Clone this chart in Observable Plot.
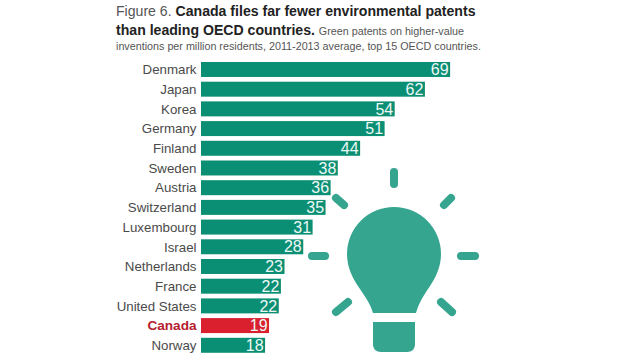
<!DOCTYPE html>
<html><head><meta charset="utf-8">
<script src="https://cdn.jsdelivr.net/npm/d3@7"></script>
<script src="https://cdn.jsdelivr.net/npm/@observablehq/plot@0.6"></script>
<style>
html,body{margin:0;padding:0;background:#fff;overflow:hidden}
#wrap{position:relative;width:635px;height:357px;font-family:"Liberation Sans",Arial,sans-serif}
#head{position:absolute;left:116px;top:0;width:519px;height:60px;color:#222}
#head div{position:absolute;left:0;white-space:nowrap}
#head .t{font-size:14.1px;font-weight:bold;color:#222}
#head .l{font-weight:normal;color:#555}
#head .s{font-size:10.75px;font-weight:normal;color:#555}
#chart{position:absolute;left:0;top:60px}
#bulb{position:absolute;left:0;top:0;pointer-events:none}
</style></head>
<body>
<div id="wrap">
<div id="head">
<div class="t" style="top:3px"><span class="l">Figure 6.</span> Canada files far fewer environmental patents</div>
<div class="t" style="top:22px">than leading OECD countries. <span class="s">Green patents on higher-value</span></div>
<div class="s" style="top:40px">inventions per million residents, 2011-2013 average, top 15 OECD countries.</div>
</div>
<div id="chart"></div>
<svg id="bulb" width="635" height="357" viewBox="0 0 635 357">
<g fill="#36a590">
<path d="M373 313 L416 313 C419 303 422 298 428 289 C435 279 441 268 441 254 A47 47 0 0 0 347 254 C347 268 353 279 360 289 C366 298 370 303 373 313Z"/>
<path d="M373 322 L415 322 L415 344 C415 349 412 352 407 352 L381 352 C376 352 373 349 373 344Z"/>
</g>
<g stroke="#36a590" stroke-width="8" stroke-linecap="round" fill="none">
<line x1="394" y1="172" x2="394" y2="184"/>
<line x1="336" y1="198" x2="344" y2="205"/>
<line x1="451" y1="198" x2="444" y2="205"/>
<line x1="312" y1="256" x2="325" y2="256"/>
<line x1="461" y1="256" x2="475" y2="256"/>
<line x1="336" y1="312" x2="348" y2="302"/>
<line x1="452" y1="312" x2="441" y2="302"/>
</g>
</svg>
</div>
<script>
const countries = ["Denmark","Japan","Korea","Germany","Finland","Sweden","Austria","Switzerland","Luxembourg","Israel","Netherlands","France","United States","Canada","Norway"];
const values = [69.2,62.2,53.8,51,44.2,38,36,34.6,31,28.4,23.2,22.2,21.6,18.9,17.8];
const labels = ["69","62","54","51","44","38","36","35","31","28","23","22","22","19","18"];
const highlight = "Canada";
const rows = countries.map((c,i)=>({country:c,value:values[i],label:labels[i]}));
const isHi = d => d.country === highlight;
const plot = Plot.plot({
  width:635, height:297,
  marginLeft:201, marginRight:0, marginTop:0, marginBottom:0,
  style:{fontFamily:'"Liberation Sans",Arial,sans-serif',background:"transparent",overflow:"visible"},
  x:{domain:[0,100],range:[201,561],axis:null},
  y:{type:"band",domain:countries,range:[-2.73,297.5],padding:0.24,round:false,axis:null},
  marks:[
    Plot.barX(rows,{x:"value",y:"country",fill:d=>isHi(d)?"#da1f2e":"#0a8f74"}),
    Plot.text(rows,{x:"value",y:"country",text:"label",textAnchor:"end",dx:-2,fill:"#eef8f5",fontSize:16}),
    Plot.text(rows.filter(d=>!isHi(d)),{x:0,y:"country",text:"country",textAnchor:"end",dx:-5,fill:"#4a4a4a",fontSize:13.3}),
    Plot.text(rows.filter(isHi),{x:0,y:"country",text:"country",textAnchor:"end",dx:-5,fill:"#b5202f",fontSize:13.6,fontWeight:"bold"})
  ]
});
document.getElementById("chart").appendChild(plot);
</script>
</body></html>
